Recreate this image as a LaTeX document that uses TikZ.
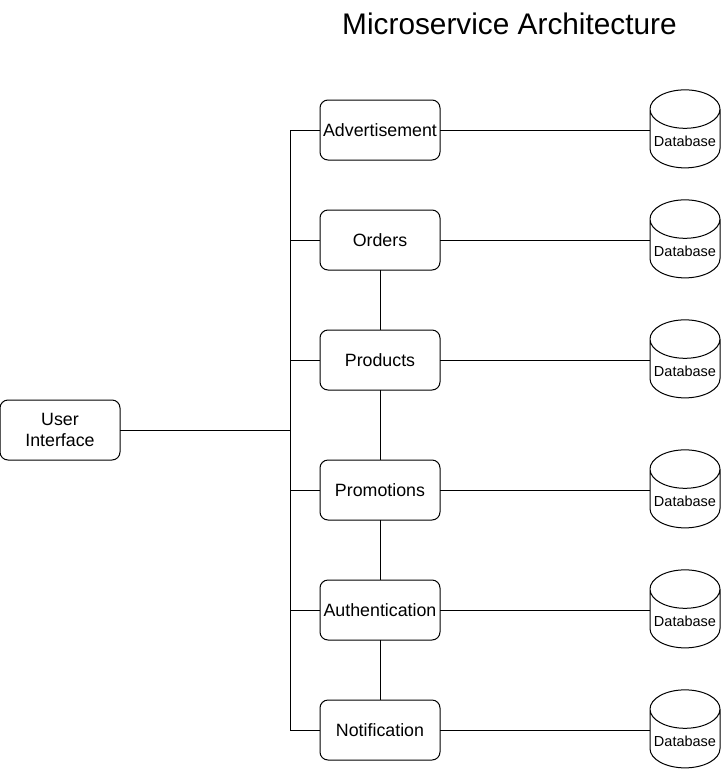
\documentclass[tikz,border=0pt]{standalone}
\usepackage{fontspec}
\setmainfont{Liberation Sans}
\usetikzlibrary{positioning, shapes.geometric}

\begin{document}
\begin{tikzpicture}[x=1pt, y=-1pt, semithick, line width=1pt,
    service/.style={draw, rectangle, rounded corners=8pt, minimum width=120pt, minimum height=60pt,
      inner sep=1pt, outer sep=0pt, align=center, font=\fontsize{17.8}{21}\selectfont},
    database/.style={draw, cylinder, shape border rotate=90, aspect=0.6, outer sep=0pt,
      minimum width=70pt, minimum height=78pt, inner sep=1pt, font=\fontsize{14.5}{17}\selectfont}]
  \useasboundingbox (0,0) rectangle (721,772);

  \node[font=\fontsize{29.8}{34}\selectfont] (title) at (509.5,24) {Microservice Architecture};

  \node[service] (ui) at (60,430) {User\\Interface};

  \node[service] (ad) at (380,130) {Advertisement};
  \node[service, below=50pt of ad] (orders) {Orders};
  \node[service, below=60pt of orders] (products) {Products};
  \node[service, below=70pt of products] (promo) {Promotions};
  \node[service, below=60pt of promo] (auth) {Authentication};
  \node[service, below=60pt of auth] (notif) {Notification};

  % databases
  \foreach \s in {ad, orders, products, promo, auth, notif}
    \node[database, right=210pt of \s, yshift=-11pt] (db-\s) {Database};

  \coordinate (bus) at (290,0);

  \path
    (ui) edge (ui -| bus)
    (ad.west -| bus) edge (notif.west -| bus)
    (orders) edge (products)
    (products) edge (promo)
    (promo) edge (auth)
    (auth) edge (notif);
  \foreach \s in {ad, orders, products, promo, auth, notif}
    \path (\s.west -| bus) edge (\s) (\s) edge (\s.east -| db-\s.west);

\end{tikzpicture}
\end{document}
